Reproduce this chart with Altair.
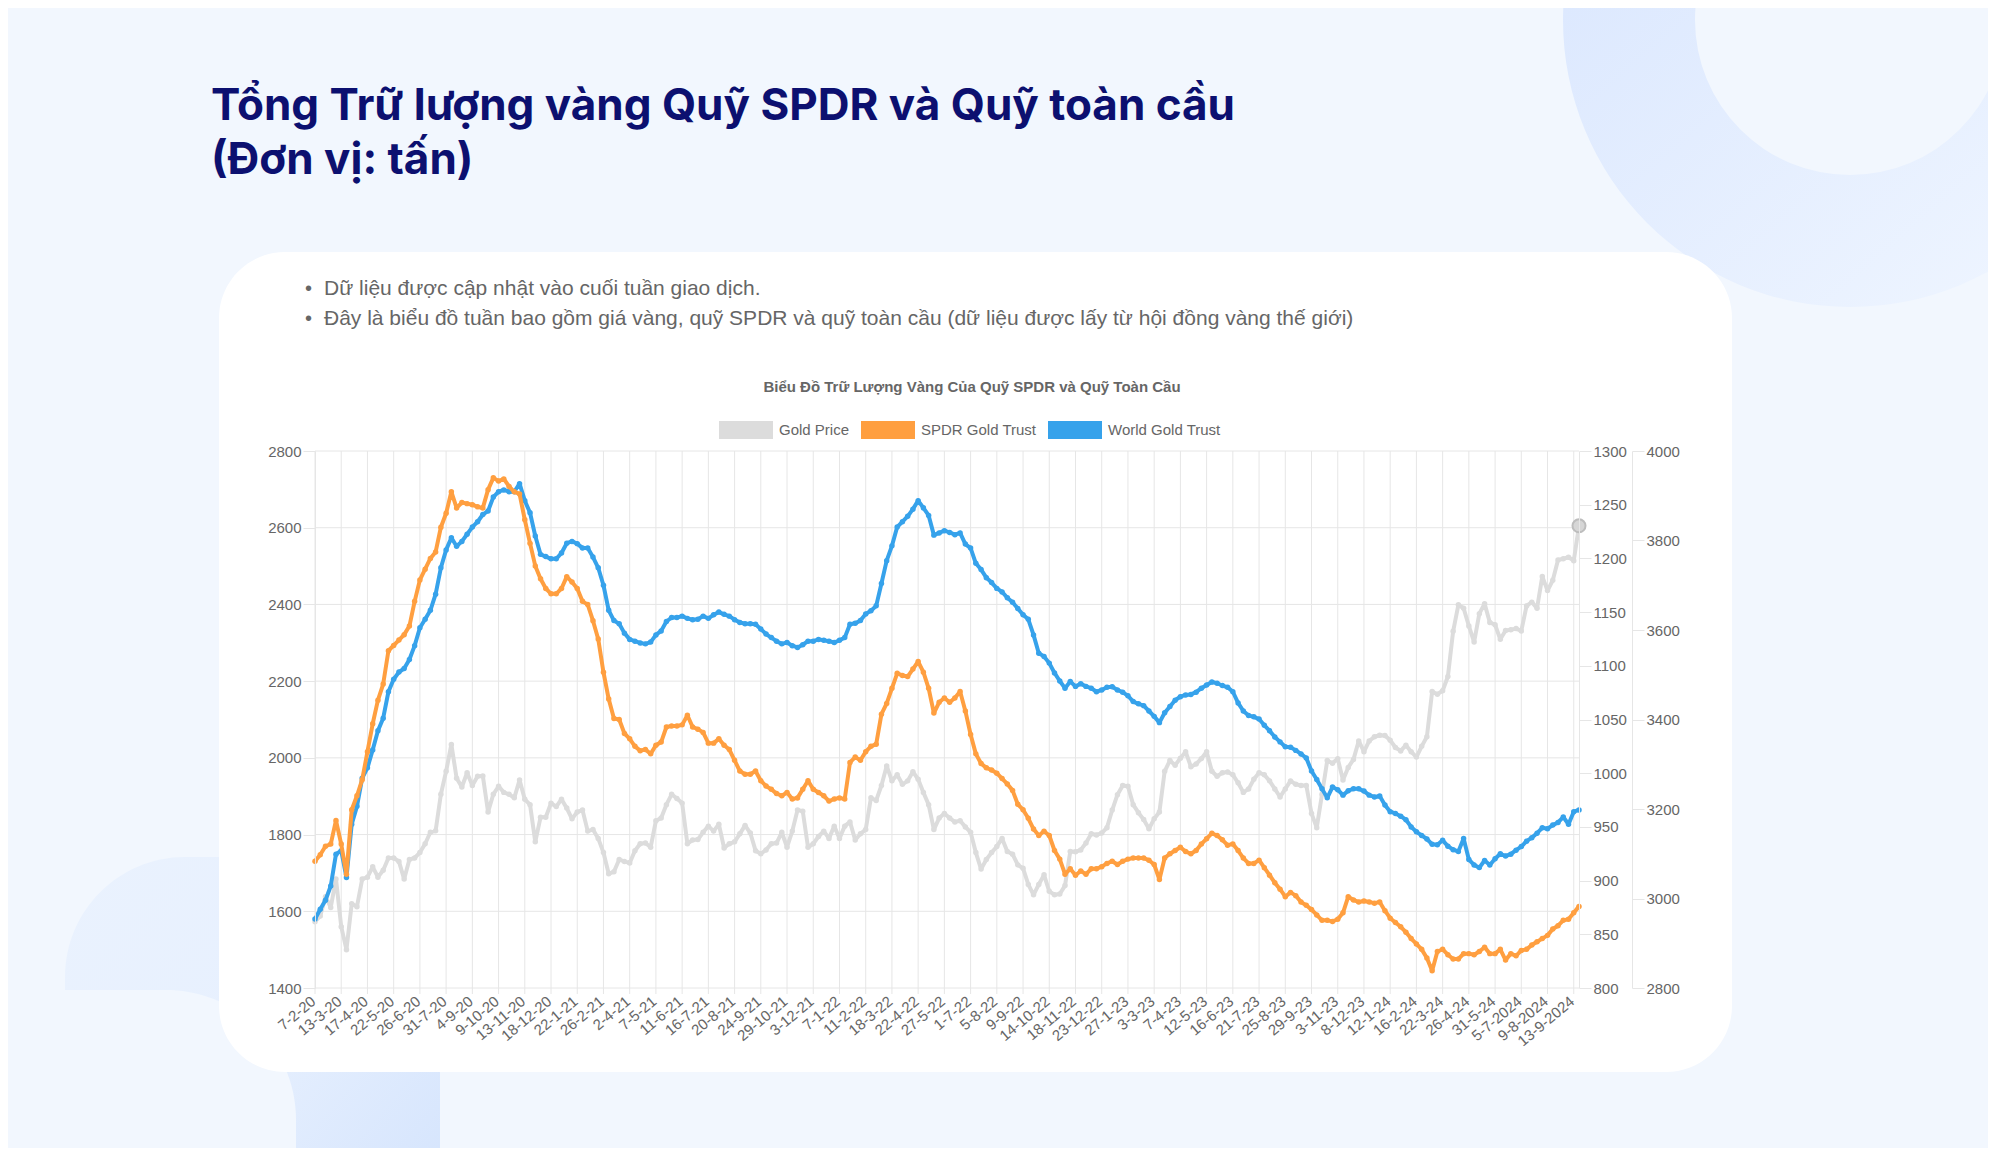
import altair as alt
import pandas as pd

# ---------------- data ----------------
X_LABELS = ["7-2-20", "13-3-20", "17-4-20", "22-5-20", "26-6-20", "31-7-20", "4-9-20", "9-10-20",
            "13-11-20", "18-12-20", "22-1-21", "26-2-21", "2-4-21", "7-5-21", "11-6-21", "16-7-21",
            "20-8-21", "24-9-21", "29-10-21", "3-12-21", "7-1-22", "11-2-22", "18-3-22", "22-4-22",
            "27-5-22", "1-7-22", "5-8-22", "9-9-22", "14-10-22", "18-11-22", "23-12-22", "27-1-23",
            "3-3-23", "7-4-23", "12-5-23", "16-6-23", "21-7-23", "25-8-23", "29-9-23", "3-11-23",
            "8-12-23", "12-1-24", "16-2-24", "22-3-24", "26-4-24", "31-5-24", "5-7-2024", "9-8-2024",
            "13-9-2024"]

GOLD_PRICE = [
    1573, 1588, 1638, 1610, 1684, 1560, 1500, 1620, 1612, 1684,
    1689, 1716, 1689, 1707, 1739, 1739, 1730, 1684, 1735, 1739,
    1753, 1776, 1806, 1810, 1905, 1965, 2035, 1947, 1924, 1961,
    1928, 1952, 1953, 1859, 1905, 1926, 1910, 1905, 1896, 1942,
    1892, 1878, 1781, 1845, 1845, 1882, 1873, 1892, 1869, 1841,
    1859, 1864, 1809, 1813, 1790, 1753, 1698, 1703, 1735, 1730,
    1726, 1758, 1776, 1778, 1767, 1836, 1843, 1878, 1905, 1894,
    1882, 1776, 1786, 1787, 1806, 1822, 1809, 1827, 1765, 1776,
    1781, 1802, 1824, 1804, 1758, 1750, 1760, 1776, 1778, 1806,
    1767, 1809, 1864, 1861, 1767, 1776, 1795, 1809, 1790, 1822,
    1790, 1822, 1833, 1786, 1802, 1813, 1896, 1889, 1928, 1979,
    1940, 1956, 1931, 1940, 1964, 1944, 1910, 1878, 1813, 1843,
    1855, 1843, 1833, 1836, 1820, 1806, 1753, 1710, 1735, 1753,
    1769, 1790, 1756, 1749, 1721, 1712, 1670, 1643, 1670, 1695,
    1652, 1643, 1645, 1667, 1756, 1755, 1760, 1778, 1802, 1799,
    1804, 1818, 1864, 1904, 1928, 1926, 1878, 1857, 1839, 1815,
    1841, 1859, 1965, 1993, 1981, 1999, 2016, 1977, 1984, 1998,
    2016, 1965, 1952, 1961, 1963, 1956, 1935, 1910, 1919, 1944,
    1961, 1956, 1940, 1919, 1898, 1919, 1940, 1931, 1928, 1928,
    1855, 1818, 1905, 1993, 1986, 1998, 1942, 1975, 1996, 2044,
    2016, 2044, 2055, 2059, 2058, 2046, 2027, 2018, 2033, 2016,
    2002, 2030, 2055, 2173, 2166, 2175, 2212, 2330, 2399, 2390,
    2344, 2302, 2376, 2402, 2353, 2347, 2309, 2332, 2334, 2337,
    2331, 2396, 2406, 2390, 2473, 2436, 2463, 2516, 2519, 2523,
    2514, 2605]

SPDR_GOLD_TRUST = [
    918, 924, 932, 934, 956, 934, 906, 966, 979, 994,
    1020, 1046, 1068, 1083, 1114, 1119, 1124, 1129, 1137, 1160,
    1180, 1190, 1200, 1206, 1229, 1242, 1262, 1247, 1252, 1251,
    1250, 1248, 1247, 1264, 1275, 1272, 1274, 1267, 1262, 1260,
    1236, 1214, 1193, 1181, 1172, 1167, 1167, 1172, 1183, 1178,
    1172, 1160, 1157, 1142, 1125, 1094, 1069, 1051, 1050, 1037,
    1032, 1025, 1021, 1022, 1018, 1026, 1029, 1043, 1044, 1044,
    1045, 1054, 1043, 1041, 1038, 1028, 1028, 1032, 1026, 1022,
    1012, 1002, 999, 999, 1002, 993, 988, 985, 981, 979,
    982, 976, 977, 985, 993, 985, 982, 979, 974, 976,
    977, 976, 1010, 1015, 1012, 1020, 1025, 1027, 1055, 1065,
    1079, 1093, 1091, 1090, 1097, 1104, 1094, 1079, 1056, 1066,
    1070, 1066, 1070, 1076, 1058, 1036, 1018, 1009, 1005, 1003,
    1000, 995, 990, 984, 971, 966, 958, 948, 942, 946,
    942, 928, 920, 906, 911, 905, 909, 906, 911, 911,
    913, 916, 918, 915, 918, 920, 921, 921, 921, 919,
    915, 901, 921, 925, 928, 931, 927, 925, 928, 934,
    939, 944, 942, 938, 933, 934, 928, 921, 916, 916,
    919, 912, 905, 898, 892, 885, 889, 886, 880, 877,
    873, 868, 863, 863, 862, 864, 870, 885, 882, 880,
    881, 880, 879, 880, 872, 865, 861, 857, 852, 846,
    841, 836, 828, 816, 834, 836, 831, 827, 827, 832,
    832, 831, 834, 838, 832, 832, 836, 826, 832, 830,
    835, 836, 840, 843, 846, 849, 855, 858, 863, 864,
    870, 876]

WORLD_GOLD_TRUST = [
    2954, 2976, 2996, 3028, 3099, 3107, 3047, 3166, 3206, 3269,
    3292, 3332, 3375, 3403, 3462, 3490, 3506, 3514, 3534, 3565,
    3605, 3624, 3644, 3680, 3739, 3779, 3806, 3787, 3798, 3814,
    3830, 3842, 3858, 3866, 3897, 3909, 3913, 3909, 3909, 3927,
    3889, 3862, 3810, 3769, 3764, 3759, 3759, 3772, 3794, 3798,
    3793, 3783, 3783, 3763, 3739, 3700, 3644, 3621, 3614, 3593,
    3579, 3575, 3571, 3569, 3573, 3589, 3598, 3619, 3628, 3628,
    3631, 3626, 3623, 3624, 3631, 3626, 3634, 3640, 3635, 3631,
    3623, 3617, 3614, 3614, 3613, 3602, 3591, 3583, 3575, 3569,
    3572, 3565, 3561, 3567, 3575, 3575, 3579, 3577, 3575, 3572,
    3577, 3583, 3613, 3615, 3621, 3636, 3643, 3654, 3704, 3755,
    3788, 3830, 3842, 3854, 3870, 3889, 3873, 3856, 3812, 3817,
    3822, 3818, 3813, 3817, 3792, 3783, 3749, 3735, 3717, 3706,
    3693, 3685, 3672, 3662, 3648, 3634, 3624, 3589, 3548, 3541,
    3526, 3504, 3486, 3470, 3485, 3474, 3480, 3474, 3470, 3462,
    3466, 3472, 3473, 3466, 3461, 3453, 3440, 3435, 3431, 3419,
    3407, 3393, 3415, 3429, 3443, 3451, 3455, 3456, 3461, 3470,
    3477, 3484, 3481, 3476, 3472, 3462, 3437, 3419, 3409, 3406,
    3401, 3387, 3375, 3361, 3350, 3339, 3338, 3331, 3323, 3314,
    3285, 3266, 3245, 3225, 3249, 3243, 3231, 3241, 3245, 3245,
    3240, 3231, 3227, 3229, 3209, 3194, 3190, 3184, 3176, 3160,
    3149, 3141, 3133, 3121, 3120, 3130, 3117, 3109, 3105, 3134,
    3087, 3075, 3069, 3085, 3075, 3089, 3100, 3095, 3099, 3108,
    3116, 3128, 3136, 3146, 3158, 3156, 3164, 3170, 3182, 3166,
    3194, 3198]

SERIES = ["Gold Price", "SPDR Gold Trust", "World Gold Trust"]
COLORS = ["#DCDCDC", "#FF9F40", "#36A2EB"]

GOLD_TICKS = list(range(1400, 2801, 200))
SPDR_TICKS = list(range(800, 1301, 50))
WORLD_TICKS = list(range(2800, 4001, 200))

N = len(GOLD_PRICE)
X_TICKS = [5 * i for i in range(len(X_LABELS))]
weeks = list(range(N))
long_df = pd.DataFrame({
    "week": weeks * 3,
    "series": [SERIES[0]] * N + [SERIES[1]] * N + [SERIES[2]] * N,
    "value": GOLD_PRICE + SPDR_GOLD_TRUST + WORLD_GOLD_TRUST,
})
tick_df = pd.DataFrame({"week": X_TICKS, "label": X_LABELS})

# ---------------- styling ----------------
LABEL_FONT = "Liberation Sans"
GRID = "#E6E6E6"
TXT = "#666666"
PLOT_W, PLOT_H = 1264, 537

x_scale = alt.Scale(domain=[0, N - 1], nice=False, zero=False)
x_enc = alt.X("week:Q", scale=x_scale, axis=None)

color_enc = alt.Color("series:N", scale=alt.Scale(domain=SERIES, range=COLORS),
                      legend=alt.Legend(title=None, orient="none", legendX=404, legendY=-48,
                                        direction="horizontal",
                                        symbolType="M-1,-0.333H1V0.333H-1Z",
                                        symbolSize=2916, symbolStrokeWidth=0, symbolOpacity=1,
                                        padding=0, labelFontSize=15, labelColor=TXT,
                                        labelFont=LABEL_FONT, labelOffset=6, columnPadding=11,
                                        labelLimit=0))

common_axis = dict(title=None, labelFontSize=15, labelColor=TXT, labelFont=LABEL_FONT, zindex=1,
                   tickColor=GRID, domainColor=GRID, tickSize=12, labelPadding=2, grid=False,
                   format="d")

gold_axis = alt.Axis(orient="left", values=GOLD_TICKS, **common_axis)
spdr_axis = alt.Axis(orient="right", values=SPDR_TICKS, **common_axis)
world_axis = alt.Axis(orient="right", offset=53, values=WORLD_TICKS, **common_axis)


def series_layer(name, color, domain, axis, extra=None):
    y_enc = alt.Y("value:Q", scale=alt.Scale(domain=domain, nice=False, zero=False), axis=axis)
    base = alt.Chart(long_df).transform_filter(alt.datum.series == name)
    line = base.mark_line(strokeWidth=4, strokeJoin="round", color=color).encode(x=x_enc, y=y_enc)
    pts = base.mark_circle(size=30, opacity=1).encode(x=x_enc, y=y_enc, color=color_enc)
    parts = [line, pts]
    if extra is not None:
        parts.append(extra(base, y_enc))
    return alt.layer(*parts)


def gold_end(base, y_enc):
    return base.transform_filter(alt.datum.week == N - 1).mark_point(
        filled=True, size=170, fill="#D6D6D6", stroke="#BDBDBD", strokeWidth=2, opacity=1
    ).encode(x=x_enc, y=y_enc)


gold_layer = series_layer(SERIES[0], COLORS[0], [1400, 2800], gold_axis, gold_end)
spdr_layer = series_layer(SERIES[1], COLORS[1], [800, 1300], spdr_axis)
world_layer = series_layer(SERIES[2], COLORS[2], [2800, 4000], world_axis)

# grid lines, x ticks and x tick labels (all positioned through the shared x scale)
hgrid = alt.Chart(pd.DataFrame({"v": GOLD_TICKS})).mark_rule(color=GRID, strokeWidth=1).encode(
    y=alt.Y("v:Q", scale=alt.Scale(domain=[1400, 2800], nice=False, zero=False), axis=None))
vgrid = alt.Chart(tick_df).mark_rule(color=GRID, strokeWidth=1).encode(x=x_enc)
xticks = alt.Chart(tick_df).mark_rule(color=GRID, strokeWidth=1).encode(
    x=x_enc, y=alt.value(PLOT_H), y2=alt.value(PLOT_H + 6))
xlabels = alt.Chart(tick_df).mark_text(
    angle=320, align="right", baseline="middle", fontSize=15, color=TXT, font=LABEL_FONT, dx=-2
).encode(x=x_enc, y=alt.value(PLOT_H + 10), text="label:N")

# ---------------- page decorations & texts ----------------
one = pd.DataFrame({"k": [0]})
BG = "#F2F7FE"

ring_tr = alt.Chart(one).mark_arc(
    radius=287, radius2=155, theta=0, theta2=6.2832,
    fill=alt.Gradient(gradient="linear",
                      stops=[alt.GradientStop(color="#D9E6FE", offset=0),
                             alt.GradientStop(color="#EDF4FF", offset=1)],
                      x1=0, y1=0.2, x2=0.7, y2=1)
).encode(x=alt.value(1535), y=alt.value(-431))

# bottom-left frame shape (outer rounded block minus an inner rounded hole)
frame_outer = alt.Chart(one).mark_rect(
    cornerRadius=120,
    fill=alt.Gradient(gradient="linear",
                      stops=[alt.GradientStop(color="#EAF2FE", offset=0),
                             alt.GradientStop(color="#E7F0FE", offset=0.45),
                             alt.GradientStop(color="#D6E5FD", offset=0.85)],
                      x1=0, y1=0, x2=1, y2=1)
).encode(x=alt.value(65 - 315), x2=alt.value(440 - 315), y=alt.value(857 - 451), y2=alt.value(1300 - 451))
frame_hole = alt.Chart(one).mark_rect(cornerRadius=130, color=BG).encode(
    x=alt.value(-100 - 315), x2=alt.value(296 - 315), y=alt.value(990 - 451), y2=alt.value(1350 - 451))

card = alt.Chart(one).mark_rect(cornerRadius=66, color="#FFFFFF").encode(
    x=alt.value(-96), x2=alt.value(1417), y=alt.value(-199), y2=alt.value(621))


def text(txt, x, y, size, color, font, weight="normal", align="left"):
    return alt.Chart(one).mark_text(text=txt, fontSize=size, color=color, font=font,
                                    fontWeight=weight, align=align, baseline="alphabetic").encode(
        x=alt.value(x), y=alt.value(y))


TITLE_COLOR = "#0C1070"
TITLE_FONT = "Inter"
title1 = text("Tổng Trữ lượng vàng Quỹ SPDR và Quỹ toàn cầu", -104, -331, 44, TITLE_COLOR, TITLE_FONT, "bold")
title2 = text("(Đơn vị: tấn)", -104, -277, 44, TITLE_COLOR, TITLE_FONT, "bold")
b1_dot = text("•", -10, -156, 20, TXT, LABEL_FONT)
b1 = text("Dữ liệu được cập nhật vào cuối tuần giao dịch.", 9, -156, 21, TXT, LABEL_FONT)
b2_dot = text("•", -10, -126, 20, TXT, LABEL_FONT)
b2 = text("Đây là biểu đồ tuần bao gồm giá vàng, quỹ SPDR và quỹ toàn cầu "
          "(dữ liệu được lấy từ hội đồng vàng thế giới)", 9, -126, 21, TXT, LABEL_FONT)
chart_title = text("Biểu Đồ Trữ Lượng Vàng Của Quỹ SPDR và Quỹ Toàn Cầu", 657, -59, 15, TXT,
                   LABEL_FONT, "bold", "center")

chart = alt.layer(
    ring_tr, frame_outer, frame_hole, card, title1, title2, b1_dot, b1, b2_dot, b2, chart_title,
    hgrid, vgrid, xticks, xlabels, gold_layer, world_layer, spdr_layer
).resolve_scale(y="independent").properties(
    width=PLOT_W, height=PLOT_H, background=BG,
    padding={"left": 307, "top": 443, "right": 409, "bottom": 160},
    autosize=alt.AutoSizeParams(type="none"),
).configure_view(stroke=None)

chart.save("out.html", embed_options={"renderer": "svg", "actions": False})
